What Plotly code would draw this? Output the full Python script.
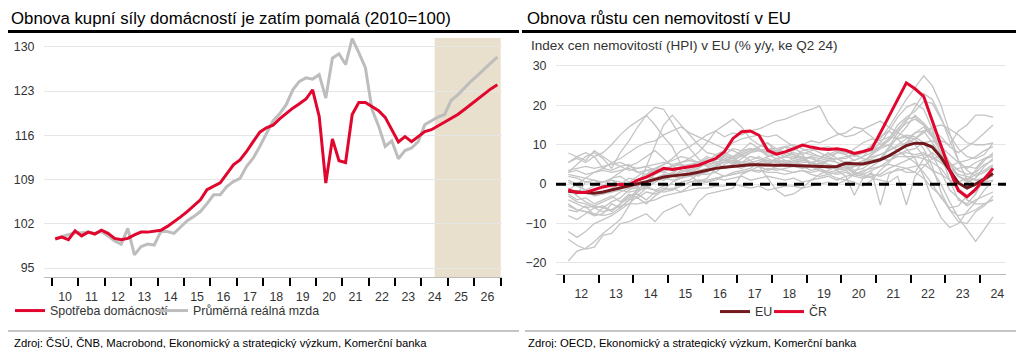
import plotly.graph_objects as go

# ---------------- LEFT CHART DATA (quarterly, 2010Q1 .. 2026Q4) ----------------
left_first_year = 2010
left_year_labels = ["10", "11", "12", "13", "14", "15", "16", "17", "18",
                    "19", "20", "21", "22", "23", "24", "25", "26"]
left_yticks = [95, 102, 109, 116, 123, 130]
forecast_from = 2024.5
forecast_to = 2027.0

spotreba = [99.6, 99.9, 99.5, 100.9, 100.1, 100.7, 100.4, 101.0, 100.5, 99.7,
            99.5, 99.7, 100.25, 100.7, 100.7, 100.9, 101.0, 101.6, 102.3, 103.1,
            103.95, 104.85, 105.8, 107.4, 107.9, 108.5, 109.9, 111.35, 112.1,
            113.45, 115.0, 116.5, 117.2, 117.6, 118.6, 119.5, 120.3, 121.0, 121.75,
            123.2, 119.0, 108.45, 115.45, 112.0, 111.7, 119.3, 121.2, 121.2, 120.6,
            119.9, 118.85, 116.9, 114.95, 115.8, 115.0, 115.8, 116.6, 116.9,
            117.5, 118.0, 118.6, 119.3, 120.1, 120.9, 121.75, 122.6, 123.35, 124.0]

mzda = [99.7, 100.0, 100.2, 100.6, 100.6, 100.7, 100.5, 100.8, 100.1, 99.3,
        98.8, 101.3, 97.1, 98.4, 98.8, 98.65, 100.8, 100.8, 100.5, 101.5,
        102.5, 103.15, 103.95, 105.2, 106.6, 106.6, 107.9, 108.7, 109.2,
        111.1, 112.4, 114.25, 116.4, 118.3, 119.4, 120.85, 123.2, 124.55, 125.1,
        124.9, 125.6, 121.9, 128.2, 128.9, 127.2, 131.3, 129.1, 126.7, 120.1,
        117.5, 114.25, 115.15, 112.3, 113.6, 114.0, 115.0, 117.7, 118.3,
        118.9, 119.3, 121.55, 122.4, 123.5, 124.55, 125.5, 126.5, 127.45, 128.4]

# ---------------- RIGHT CHART DATA (quarterly y/y %, 2012Q1 .. 2024Q2) ----------------
right_first_year = 2012
right_year_labels = ["12", "13", "14", "15", "16", "17", "18", "19", "20",
                     "21", "22", "23", "24"]
right_yticks = [-20, -10, 0, 10, 20, 30]

cr = [-1.5, -2.1, -2.1, -1.4, -0.7, -0.3, 0.0, -0.2, 1.0, 1.8,
      2.9, 4.0, 3.7, 4.0, 4.4, 4.8, 5.6, 6.5, 8.2, 11.6,
      13.3, 13.5, 12.4, 8.6, 7.6, 8.2, 9.0, 9.9, 9.4, 9.0,
      8.8, 9.0, 8.6, 7.8, 8.3, 8.9, 13.0, 17.2, 21.5, 25.7,
      24.2, 22.3, 16.0, 9.6, 3.6, -1.6, -3.2, -1.3, 1.5, 4.0]

eu = [-1.8, -2.0, -2.1, -2.3, -2.0, -1.5, -1.0, -0.5, 0.0, 0.6,
      1.2, 1.8, 2.1, 2.3, 2.6, 3.0, 3.5, 4.0, 4.3, 4.5,
      4.7, 4.9, 4.9, 4.8, 4.8, 4.8, 4.7, 4.7, 4.5, 4.4,
      4.4, 4.5, 5.3, 5.2, 5.1, 5.6, 6.2, 7.2, 8.6, 9.8,
      10.4, 10.3, 9.4, 6.8, 3.5, 0.3, -1.0, 0.0, 1.3, 2.7]

other_01 = [-19.5, -17.0, -16.3, -14.6, -12.5, -10.8, -9.0, -5.5, -1.0, 4.5, 10.0, 15.0, 17.5, 15.0, 12.5, 10.0,
            8.0, 7.5, 8.5, 10.5, 11.5, 12.0, 12.5, 12.0, 12.5, 11.0, 9.5, 7.5, 4.5, 3.5, 2.5, 1.5,
            1.0, 0.5, -0.5, 1.0, 3.5, 5.5, 8.5, 10.5, 13.0, 13.5, 10.5, 7.5, 4.0, 2.0, 1.0, 3.5, 6.0, 8.0]
other_02 = [-14.0, -15.5, -16.5, -16.0, -13.0, -12.5, -10.0, -9.5, -8.5, -7.5, -9.5, -7.0, -6.0, -5.0, -8.0, -4.5,
            -2.5, -2.0, -1.5, -1.0, 2.5, 3.5, 4.5, 5.5, 6.0, 5.5, 6.5, 7.0, 6.5, 5.5, 5.0, 4.5,
            4.0, 3.0, 2.5, 3.5, 4.5, 6.0, 7.5, 8.5, 9.0, 10.5, 11.0, 9.5, 7.5, 5.5, 6.0, 7.0, 8.5, 9.5]
other_03 = [3.0, 5.0, 7.0, 8.0, 6.5, 4.0, 8.0, 11.0, 14.5, 17.5, 15.0, 12.0, 9.5, 5.0, 2.5, 0.5,
            1.5, 4.0, 7.5, 9.0, 8.5, 10.5, 9.0, 7.0, 8.0, 9.5, 7.5, 6.5, 5.0, 6.5, 7.0, 5.5,
            4.5, 2.5, 3.0, 4.5, 6.0, 9.0, 12.0, 14.5, 17.5, 15.5, 13.0, 9.5, 5.5, 2.0, 1.0, 2.5, 3.5, 5.0]
other_04 = [5.5, 6.5, 5.5, 7.0, 8.0, 10.0, 12.5, 14.5, 16.0, 17.5, 19.5, 19.0, 15.5, 12.0, 9.0, 6.5,
            4.5, 3.0, 5.0, 6.0, 5.5, 6.0, 7.0, 5.5, 6.5, 5.5, 5.0, 6.0, 7.0, 6.5, 8.0, 6.5,
            5.0, 3.5, 4.0, 5.5, 6.5, 9.5, 13.0, 16.0, 19.5, 23.0, 21.5, 17.0, 11.0, 6.0, 3.5, 2.0, 3.0, 4.5]
other_05 = [1.0, 0.0, -1.5, -0.5, 0.5, 1.5, 3.0, 4.5, 5.5, 7.0, 8.5, 6.5, 4.5, 3.5, 3.0, 4.0,
            5.5, 7.5, 6.0, 5.0, 6.5, 8.0, 9.5, 10.5, 8.0, 7.0, 6.5, 8.5, 9.0, 8.0, 7.0, 8.0,
            8.5, 7.0, 8.0, 10.0, 11.5, 14.5, 18.0, 21.5, 24.5, 27.5, 25.0, 20.0, 13.0, 6.0, 1.0, 0.0, 1.5, 4.0]
other_06 = [-4.0, -5.0, -6.0, -5.5, -4.5, -3.5, -2.0, -1.0, 1.0, 2.5, 4.0, 5.0, 6.5, 8.5, 9.5, 11.0,
            12.5, 13.5, 12.0, 13.0, 12.5, 13.5, 14.0, 15.0, 16.0, 16.5, 17.5, 18.3, 19.0, 19.8, 15.5, 13.0,
            12.0, 12.5, 13.7, 12.0, 10.0, 11.5, 15.0, 17.0, 18.5, 21.0, 20.5, 16.5, 12.5, 9.0, 7.0, 6.5, 7.5, 10.5]
other_07 = [-3.0, -4.5, -5.0, -6.0, -7.0, -6.5, -5.0, -3.5, -1.5, 0.5, 2.5, 3.5, 4.5, 5.5, 6.5, 8.0,
            10.5, 13.5, 15.0, 16.5, 14.5, 11.5, 10.0, 9.0, 8.5, 9.5, 10.0, 9.0, 8.0, 7.0, 7.5, 8.5,
            7.5, 6.0, 7.0, 8.0, 9.5, 11.0, 13.5, 15.5, 16.5, 15.0, 12.0, 8.0, 3.0, -1.0, -3.0, -2.0, 1.0, 3.5]
other_08 = [3.5, 4.0, 4.5, 4.0, 4.5, 5.0, 5.5, 4.5, 4.0, 4.5, 5.0, 5.5, 5.0, 5.5, 6.0, 5.5,
            6.0, 6.5, 6.0, 5.5, 5.0, 5.5, 6.0, 7.0, 7.5, 8.0, 8.5, 10.0, 11.0, 10.5, 11.5, 12.5,
            13.0, 14.5, 14.0, 15.0, 16.0, 14.5, 13.0, 12.0, 10.0, 7.0, 3.5, 0.0, -4.5, -8.5, -11.5, -14.5, -11.5, -8.3]
other_09 = [3.0, 3.5, 2.5, 3.0, 3.5, 3.0, 3.5, 4.0, 3.0, 3.5, 3.0, 4.0, 4.5, 5.0, 4.5, 5.5,
            6.0, 6.5, 7.0, 6.5, 5.5, 5.0, 5.5, 6.0, 5.5, 5.0, 6.0, 5.5, 5.5, 6.0, 6.5, 6.5,
            6.5, 7.5, 8.0, 8.5, 9.5, 10.0, 11.5, 12.0, 11.5, 9.0, 4.5, -2.0, -6.5, -9.5, -10.0, -7.0, -5.5, -3.0]
other_10 = [5.5, 7.0, 8.0, 7.0, 4.0, 3.5, 4.5, 5.0, 3.0, 2.5, 3.5, 3.0, 4.5, 5.0, 4.0, 5.5,
            7.0, 6.0, 8.0, 7.0, 4.5, 5.5, 4.5, 3.5, 4.5, 5.0, 5.5, 6.5, 7.0, 5.5, 6.0, 8.0,
            7.5, 9.0, 10.5, 11.5, 11.0, 12.0, 11.5, 12.5, 12.0, 10.5, 7.5, 3.0, -1.5, -3.5, -5.5, -4.0, -3.0, -2.0]
other_11 = [-5.0, -6.5, -7.0, -8.0, -6.0, -4.5, -3.5, -1.5, -0.5, 0.5, 1.5, 1.0, 2.0, 1.5, 2.5, 3.5,
            4.0, 5.0, 5.5, 7.0, 8.5, 9.0, 8.5, 7.5, 6.5, 7.0, 6.5, 6.0, 5.5, 5.0, 6.0, 6.5,
            5.5, 5.0, 6.0, 7.0, 7.5, 8.5, 10.0, 11.5, 13.0, 14.5, 12.0, 11.0, 10.0, 13.5, 15.0, 17.5, 17.5, 17.0]
other_12 = [-2.0, -2.5, -1.5, -3.0, -2.5, -1.0, 0.0, 1.5, 1.0, 2.0, 1.5, 2.5, 2.0, 3.5, 3.0, 4.0,
            5.5, 6.5, 7.5, 6.5, 8.0, 9.0, 8.5, 8.0, 7.5, 6.0, 5.5, 5.0, 4.5, 5.5, 4.0, 4.5,
            5.0, 4.5, 5.0, 6.5, 7.5, 8.5, 9.5, 10.5, 11.5, 13.5, 14.0, 12.0, 9.5, 8.0, 9.5, 11.0, 13.0, 15.0]
other_13 = [0.5, -0.5, -1.5, -2.0, -2.5, -2.0, -1.5, -2.0, -1.5, -1.0, -1.5, -2.0, -1.5, -0.5, 0.5, 1.0,
            1.0, 1.5, 2.0, 2.5, 3.0, 3.5, 3.5, 3.0, 3.0, 2.5, 3.0, 3.5, 3.0, 3.5, 3.0, 3.5,
            4.5, 5.0, 5.5, 6.0, 6.5, 6.0, 7.0, 7.0, 7.0, 6.5, 5.5, 4.0, 1.0, -1.5, -4.0, -5.0, -5.0, -4.0]
other_14 = [-1.0, -3.0, -4.5, -5.5, -6.0, -6.5, -5.5, -5.0, -5.0, -4.5, -4.0, -3.0, -2.5, -2.0, -1.5, -1.0,
            -1.0, -0.5, -0.5, 0.0, -0.5, -1.0, -0.5, -1.5, -1.0, -0.5, -0.5, -1.0, -0.5, 0.0, 0.5, 0.0,
            1.0, 2.5, 2.0, 2.5, 2.0, 3.0, 3.5, 4.0, 4.5, 5.0, 3.5, 2.5, 1.0, 0.5, 1.5, 1.0, 1.5, 2.0]
other_15 = [-6.5, -7.0, -5.5, -8.0, -7.5, -5.0, -6.0, -4.0, -3.5, -5.0, -3.0, -1.5, 0.5, 1.5, 3.5, 2.0,
            3.5, 4.5, 6.5, 5.5, 7.5, 8.5, 9.5, 10.5, 9.0, 8.0, 7.5, 7.0, 5.5, 4.5, 6.0, 5.5,
            4.5, 3.0, 5.5, 7.5, 9.5, 11.5, 14.0, 16.5, 17.0, 15.0, 12.5, 9.0, 5.0, 2.0, 0.5, 1.5, 4.5, 6.5]
other_16 = [-5.5, -6.5, -7.0, -7.5, -8.0, -7.5, -6.0, -4.0, -2.0, -0.5, 1.0, 2.0, 2.5, 3.0, 3.5, 4.5,
            5.0, 5.5, 6.0, 6.5, 7.0, 8.0, 8.5, 9.0, 9.0, 9.5, 9.0, 8.0, 7.5, 7.0, 6.5, 6.5,
            7.0, 7.5, 8.0, 8.5, 10.5, 13.5, 17.0, 19.5, 20.5, 19.0, 14.0, 7.5, 1.0, -4.0, -5.0, -2.5, 1.5, 4.0]
other_17 = [-1.0, -2.5, 0.5, 1.0, -0.5, 1.5, 2.0, 0.5, 2.0, 3.5, 4.0, 3.0, 2.5, 4.5, 3.5, 5.0,
            6.5, 5.5, 4.0, 5.0, 5.5, 7.0, 6.5, 5.0, 6.0, 4.5, 5.0, 4.0, 5.5, 4.0, 5.0, 3.5,
            2.0, -2.8, 1.5, 3.0, -5.3, 2.5, 4.0, 3.0, 3.0, 6.5, 8.0, 6.0, 4.5, 5.5, 4.0, 5.5, 6.5, 7.0]
other_18 = [-8.0, -9.0, -7.5, -6.0, -5.5, -7.0, -5.0, -3.0, -2.5, -4.0, -2.0, -1.0, -1.5, 0.5, 1.0, 2.5,
            3.0, 4.5, 5.5, 6.0, 5.0, 4.5, 5.5, 6.5, 5.5, 6.0, 5.0, 4.5, 3.5, 4.0, 3.0, 2.5,
            3.0, 2.0, 2.5, 1.5, 1.0, 0.5, 2.0, -5.3, 2.0, 4.5, 6.5, 7.0, 5.5, 3.5, 2.5, 3.0, 5.0, 6.0]
other_19 = [2.5, 2.0, 1.5, 1.0, 0.5, 1.0, 0.5, 0.0, -0.5, 0.5, 1.0, 1.5, 1.0, 1.5, 2.0, 2.5,
            2.5, 3.0, 2.0, 2.5, 3.0, 3.5, 3.0, 4.0, 3.5, 4.0, 4.5, 4.0, 4.5, 5.0, 4.0, 4.5,
            4.0, 4.5, 5.0, 5.5, 6.5, 7.0, 7.5, 8.0, 7.5, 8.0, 6.5, 5.5, 4.0, 2.5, 2.0, 1.0, 0.5, 1.0]
other_20 = [-2.5, -4.0, -3.5, -5.0, -4.0, -3.0, -4.5, -2.5, -3.5, -2.0, -2.5, -1.5, -1.0, -2.0, -0.5, 0.0,
            0.5, 1.0, 2.0, 3.0, 3.5, 4.0, 5.5, 5.0, 6.5, 7.0, 8.0, 7.5, 8.5, 9.0, 9.5, 8.5,
            8.0, 7.5, 6.5, 6.0, 6.5, 7.5, 8.5, 10.0, 11.5, 13.0, 14.5, 15.0, 14.0, 12.5, 10.5, 10.0, 10.0, 10.5]
other_21 = [7.9, 7.0, 6.0, 8.5, 7.0, 5.5, 4.5, 3.5, 4.0, 4.5, 3.5, 5.0, 6.0, 7.0, 6.5, 5.5,
            4.5, 5.5, 4.0, 4.5, 4.0, 5.0, 4.5, 3.5, 4.0, 3.5, 3.0, 3.5, 2.5, 2.0, 2.5, 3.0,
            3.5, 4.5, 5.5, 7.5, 9.0, 10.0, 8.5, 7.0, 5.5, 3.0, 0.0, -3.5, -6.0, -5.5, -3.0, -1.0, 0.5, 2.5]
other_22 = [2.0, 1.5, 0.5, 0.0, 0.5, 1.0, -0.5, -1.0, -1.0, -0.5, -1.5, -0.5, 0.0, -0.5, 0.5, 1.0,
            0.5, 1.5, 1.0, 1.5, 2.0, 1.0, 1.5, 2.0, 1.5, 1.0, 1.5, 0.5, 1.0, 1.5, 2.0, 1.0,
            2.0, 2.5, 3.5, 4.0, 4.5, 5.0, 4.5, 4.0, 3.0, 1.5, -1.0, -3.0, -6.5, -8.0, -7.5, -6.5, -5.0, -4.0]
other_23 = [-1.5, 0.0, 1.5, 3.0, 4.0, 5.5, 6.5, 8.0, 9.5, 10.5, 11.0, 12.5, 13.5, 14.5, 13.0, 12.0,
            11.0, 10.0, 9.0, 8.5, 7.5, 6.0, 4.5, 1.5, -1.5, -3.0, -2.5, -1.0, 1.0, 2.5, 3.5, 4.5,
            5.5, 6.0, 7.0, 9.5, 12.0, 13.5, 11.5, 9.0, 6.5, 2.0, -4.0, -8.5, -11.0, -10.0, -7.0, -4.5, -1.5, 1.0]
other_24 = [-12.0, -13.5, -12.0, -10.0, -9.0, -8.0, -6.5, -5.0, -3.0, -1.0, 0.5, 1.5, 3.0, 4.5, 5.0, 5.5,
            6.0, 5.5, 6.5, 7.0, 7.5, 8.5, 9.0, 8.0, 8.5, 7.5, 7.0, 6.5, 5.5, 5.0, 4.5, 4.0,
            3.5, 2.0, 1.5, 2.0, 2.5, 4.0, 5.0, 6.0, 7.0, 7.5, 7.0, 5.5, 3.5, 4.0, 4.5, 4.0, 6.5, 7.5]

other_countries = [other_01, other_02, other_03, other_04, other_05, other_06, other_07, other_08,
                   other_09, other_10, other_11, other_12, other_13, other_14, other_15, other_16,
                   other_17, other_18, other_19, other_20, other_21, other_22, other_23, other_24]

# ---------------- STYLE ----------------
FONT = "Liberation Sans, Arial, Helvetica, sans-serif"
RED = "#E1062D"
DARK_RED = "#72191D"
GREY_LEFT = "#BDBDBD"
GREY_RIGHT = "#C4C4C4"
TXT = "#333333"
# the page body adds an 8px margin; the figure is sized to fit the 1024x356 window
OFF = 8
W, H = 1024 - 2 * OFF, 356 - 2 * OFF


def qx(first_year, n):
    return [first_year + (i + 0.5) / 4 for i in range(n)]


def px(x):
    return (x - OFF) / W


def py(y):
    return 1 - (y - OFF) / H


fig = go.Figure()

# Left chart
fig.add_trace(go.Scatter(x=qx(left_first_year, len(mzda)), y=mzda, mode="lines",
                         name="Průměrná reálná mzda", line=dict(color=GREY_LEFT, width=3),
                         xaxis="x", yaxis="y", legend="legend3"))
fig.add_trace(go.Scatter(x=qx(left_first_year, len(spotreba)), y=spotreba, mode="lines",
                         name="Spotřeba domácností", line=dict(color=RED, width=3),
                         xaxis="x", yaxis="y", legend="legend"))

# Right chart
for s in other_countries:
    fig.add_trace(go.Scatter(x=qx(right_first_year, len(s)), y=s, mode="lines",
                             line=dict(color=GREY_RIGHT, width=1.3), showlegend=False,
                             hoverinfo="skip", xaxis="x2", yaxis="y2"))
fig.add_trace(go.Scatter(x=qx(right_first_year, len(eu)), y=eu, mode="lines", name="EU",
                         line=dict(color=DARK_RED, width=3), xaxis="x2", yaxis="y2",
                         legend="legend2"))
fig.add_trace(go.Scatter(x=qx(right_first_year, len(cr)), y=cr, mode="lines", name="ČR",
                         line=dict(color=RED, width=3), xaxis="x2", yaxis="y2",
                         legend="legend4"))

left_years = [left_first_year + i for i in range(len(left_year_labels))]
right_years = [right_first_year + i for i in range(len(right_year_labels))]

axis_common = dict(showgrid=False, zeroline=False, showline=True, linecolor="#BBBBBB", linewidth=1,
                   ticks="outside", ticklen=8, tickcolor="rgba(0,0,0,0)",
                   tickfont=dict(family=FONT, size=12.4, color=TXT), fixedrange=True)
yaxis_common = dict(showgrid=True, gridcolor="#E6E6E6", gridwidth=1, zeroline=False, showline=False,
                    ticks="outside", ticklen=6, tickcolor="rgba(0,0,0,0)",
                    tickfont=dict(family=FONT, size=12.4, color=TXT), fixedrange=True)


def legend_at(x, y):
    return dict(orientation="h", x=px(x), y=py(y), xanchor="left", yanchor="middle",
                font=dict(family=FONT, size=12.4, color=TXT), bgcolor="rgba(0,0,0,0)")


fig.update_layout(
    width=W, height=H, margin=dict(l=0, r=0, t=0, b=0),
    paper_bgcolor="white", plot_bgcolor="white",
    font=dict(family=FONT, size=12, color=TXT),
    xaxis=dict(domain=[px(44), px(502)], range=[2009.7, 2027.05], anchor="y",
               tickmode="array", tickvals=[y + 0.5 for y in left_years], ticktext=left_year_labels,
               minor=dict(tickmode="array", tickvals=left_years + [left_years[-1] + 1],
                          ticks="outside", ticklen=8, tickwidth=2, tickcolor="black", showgrid=False),
               **axis_common),
    yaxis=dict(domain=[py(277), py(38)], range=[93.6, 131.4], anchor="x",
               tickmode="array", tickvals=left_yticks, **yaxis_common),
    xaxis2=dict(domain=[px(556), px(1006)], range=[2011.77, 2024.75], anchor="y2",
                tickmode="array", tickvals=[y + 0.5 for y in right_years], ticktext=right_year_labels,
                minor=dict(tickmode="array", tickvals=right_years,
                           ticks="outside", ticklen=8, tickwidth=2, tickcolor="black", showgrid=False),
                **axis_common),
    yaxis2=dict(domain=[py(274), py(60)], range=[-22.8, 31.5], anchor="x2",
                tickmode="array", tickvals=right_yticks, **yaxis_common),
    legend=legend_at(10, 311),
    legend3=legend_at(153, 311),
    legend2=legend_at(715, 312),
    legend4=legend_at(769, 312),
    showlegend=True,
)

shapes = [
    # forecast shading
    dict(type="rect", xref="x", yref="y domain", x0=forecast_from, x1=forecast_to, y0=0, y1=1,
         fillcolor="#E8E0CC", line=dict(width=0), layer="below"),
    # zero line right chart
    dict(type="line", xref="x2 domain", yref="y2", x0=0, x1=1, y0=0, y1=0,
         line=dict(color="black", width=3, dash="10px,7px"), layer="above"),
    # title rules
    dict(type="line", xref="paper", yref="paper", x0=px(8), x1=px(519), y0=py(31.5), y1=py(31.5),
         line=dict(color="black", width=3)),
    dict(type="line", xref="paper", yref="paper", x0=px(522), x1=px(1016), y0=py(31.5), y1=py(31.5),
         line=dict(color="black", width=3)),
    # source rules
    dict(type="line", xref="paper", yref="paper", x0=px(8), x1=px(519), y0=py(331), y1=py(331),
         line=dict(color="#8C8C8C", width=1)),
    dict(type="line", xref="paper", yref="paper", x0=px(525), x1=px(1016), y0=py(331), y1=py(331),
         line=dict(color="#8C8C8C", width=1)),
]
fig.update_layout(shapes=shapes)

TITLE_TOP = OFF  # top edge of the page content
ann = [
    dict(text="Obnova kupní síly domácností je zatím pomalá (2010=100)", x=px(10), y=py(TITLE_TOP),
         yanchor="top", borderpad=0, font=dict(family=FONT, size=16.8, color="black")),
    dict(text="Obnova růstu cen nemovitostí v EU", x=px(526), y=py(TITLE_TOP),
         yanchor="top", borderpad=0, font=dict(family=FONT, size=16.8, color="black")),
    dict(text="Index cen nemovitostí (HPI) v EU (% y/y, ke Q2 24)", x=px(529), y=py(45),
         yanchor="middle", font=dict(family=FONT, size=13.5, color=TXT)),
    dict(text="Zdroj: ČSÚ, ČNB, Macrobond, Ekonomický a strategický výzkum, Komerční banka",
         x=px(12), y=py(343), yanchor="middle", font=dict(family=FONT, size=11.3, color="black")),
    dict(text="Zdroj: OECD, Ekonomický a strategický výzkum, Komerční banka",
         x=px(526), y=py(343), yanchor="middle", font=dict(family=FONT, size=11.3, color="black")),
]
for a in ann:
    a.update(xref="paper", yref="paper", xanchor="left", showarrow=False)
fig.update_layout(annotations=ann)

fig.write_html("out.html")
